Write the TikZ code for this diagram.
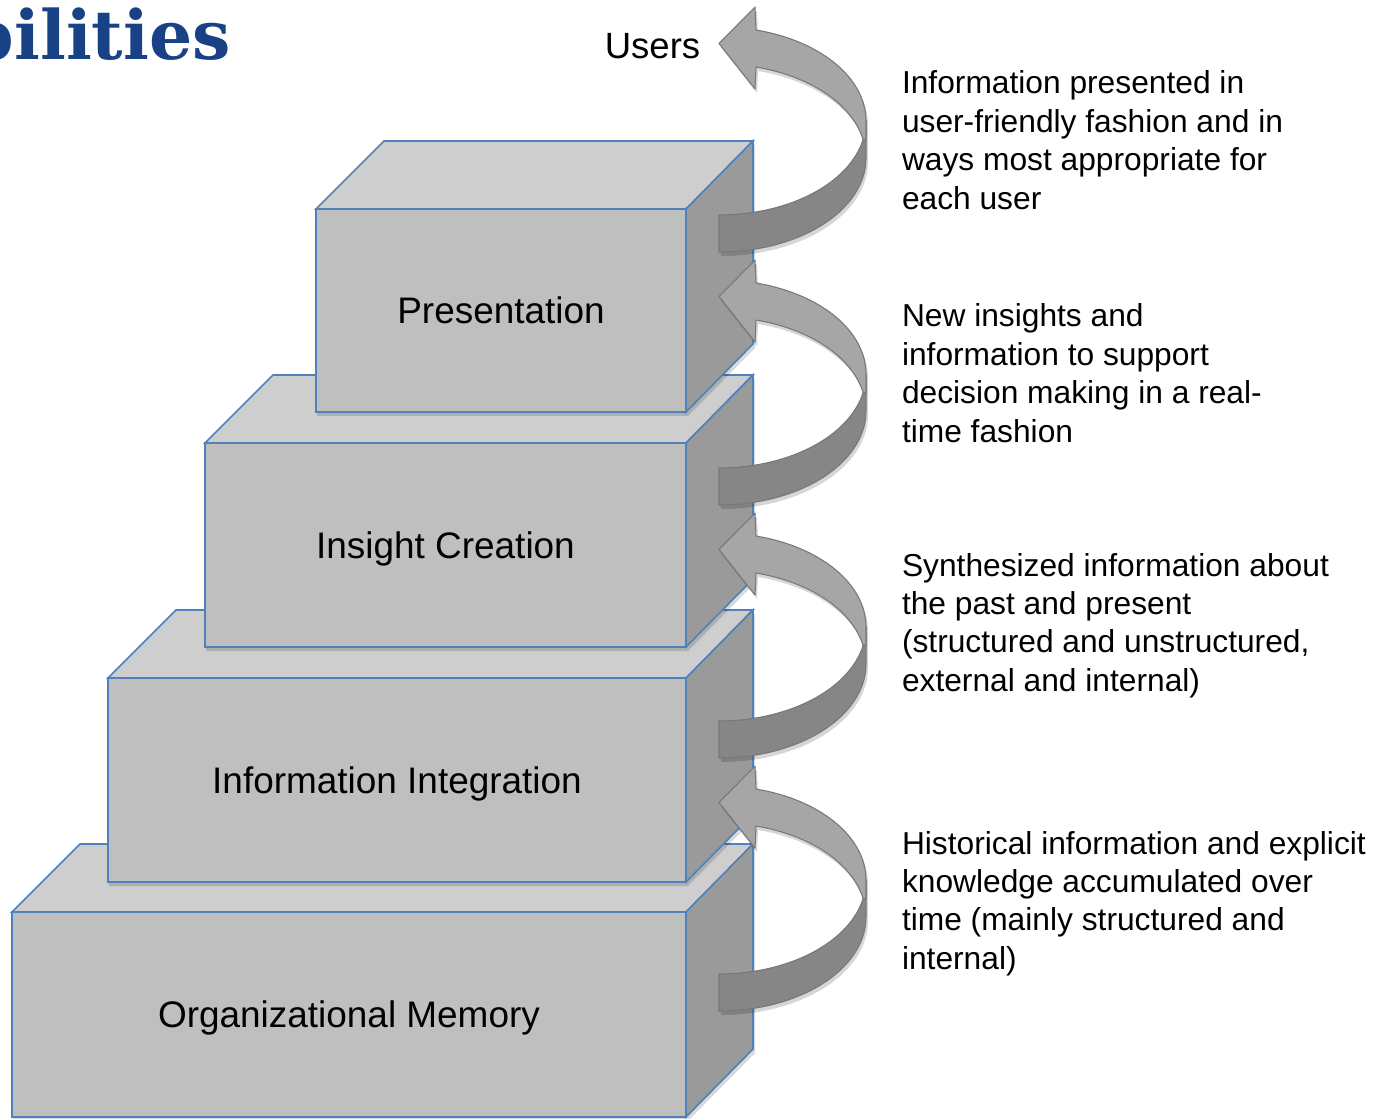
\documentclass[tikz,border=0pt]{standalone}
\usepackage{fontspec}
\setmainfont{Liberation Sans}
\newfontfamily\titlefont{DejaVu Serif}
\definecolor{boxblue}{RGB}{79,129,189}
\definecolor{fface}{RGB}{191,191,191}
\definecolor{tface}{RGB}{206,206,206}
\definecolor{rface}{RGB}{154,154,154}
\definecolor{alight}{RGB}{166,166,166}
\definecolor{adark}{RGB}{134,134,134}
\definecolor{aedge}{RGB}{120,120,120}
\definecolor{titleblue}{RGB}{24,66,133}
\tikzset{
  frontface/.style={draw=boxblue, fill=fface, line width=1.2pt, inner sep=0pt, outer sep=0pt,
    font=\fontsize{27.7}{33}\selectfont, text height=19.8pt, text depth=0pt},
  topface/.style={draw=boxblue, fill=tface, line width=1.2pt},
  rightface/.style={draw=boxblue, fill=rface, line width=1.2pt},
  cubeshadow/.style={fill=black, opacity=0.15},
  lightarrow/.style={draw=aedge, fill=alight, line width=0.8pt, line join=round},
  darkarrow/.style={draw=aedge, fill=adark, line width=0.8pt, line join=round},
  arrowshadow/.style={fill=black, opacity=0.16},
  sidetext/.style={anchor=base west, inner sep=0pt, outer sep=0pt,
    font=\fontsize{23.8}{28.8}\selectfont},
}
\newcommand\drawcube[5]{%
  \fill[cubeshadow] (#2+1,#4+5) -- (#2+1,#3+5) -- (#2+69,#3-63) -- (755,#3-63) -- (755,#4-63) -- (688,#4+5) -- cycle;
  \node[frontface, minimum width={(686-#2)*0.75pt}, minimum height={(#4-#3)*0.75pt}]
    (#1) at ({(#2+686)/2},{(#3+#4)/2+1}) {#5};
  \filldraw[topface] (#1.north west) -- ++(68,-68) -- ([shift={(67,-68)}]#1.north east) -- (#1.north east) -- cycle;
  \filldraw[rightface] (#1.north east) -- ++(67,-68) -- ([shift={(67,-68)}]#1.south east) -- (#1.south east) -- cycle;
}
\newcommand\drawbend[1]{%
  \begin{scope}[shift={(0,#1)}]
    \fill[arrowshadow, shift={(2,4)}]
      plot[domain=-75.42:0] ({719+147*cos(\t)},{121+94*sin(\t)})
      -- plot[domain=0:90] ({719+147*cos(\t)},{158+94*sin(\t)})
      -- plot[domain=90:11.35] ({719+147*cos(\t)},{121+94*sin(\t)})
      -- plot[domain=-11.35:-75.42] ({719+147*cos(\t)},{158+94*sin(\t)})
      -- (755,89) -- (719,43.5) -- (755,7) -- cycle;
    \filldraw[darkarrow]
      plot[domain=90:0] ({719+147*cos(\t)},{121+94*sin(\t)})
      -- plot[domain=0:90] ({719+147*cos(\t)},{158+94*sin(\t)}) -- cycle;
    \filldraw[lightarrow]
      plot[domain=-75.42:0] ({719+147*cos(\t)},{121+94*sin(\t)})
      -- (866,139.5)
      -- plot[domain=-11.35:-75.42] ({719+147*cos(\t)},{158+94*sin(\t)})
      -- (755,89) -- (719,43.5) -- (755,7) -- cycle;
  \end{scope}
}
\begin{document}
\begin{tikzpicture}[x=0.75pt, y=-0.75pt, variable=\t, samples=36]
\useasboundingbox (0,0) rectangle (1381,1119);
\fill[white] (0,0) rectangle (1381,1119);

\node[anchor=base east, inner sep=0pt, text=titleblue,
  font=\titlefont\bfseries\fontsize{51}{51}\selectfont] (title) at (231,60) {bilities};

\drawcube{orgmem}{12}{911}{1116}{Organizational Memory}
\drawcube{infoint}{108}{677}{881}{Information Integration}
\drawcube{insight}{205}{442}{646}{Insight Creation}
\drawcube{pres}{316}{208}{411}{Presentation}

\drawbend{0}
\drawbend{253}
\drawbend{506}
\drawbend{759}

\node[anchor=base, inner sep=0pt, font=\fontsize{27.4}{33}\selectfont] (users) at (652.5,59) {Users};

\node[sidetext] (t1) at (902,94) {\parbox[t]{14cm}{\raggedright Information presented in\\ user-friendly fashion and in\\ ways most appropriate for\\ each user}};
\node[sidetext] (t2) at (902,327) {\parbox[t]{14cm}{\raggedright New insights and\\ information to support\\ decision making in a real-\\ time fashion}};
\node[sidetext] (t3) at (902,576) {\parbox[t]{14cm}{\raggedright Synthesized information about\\ the past and present\\ (structured and unstructured,\\ external and internal)}};
\node[sidetext] (t4) at (902,854) {\parbox[t]{14cm}{\raggedright Historical information and explicit\\ knowledge accumulated over\\ time (mainly structured and\\ internal)}};
\end{tikzpicture}
\end{document}
